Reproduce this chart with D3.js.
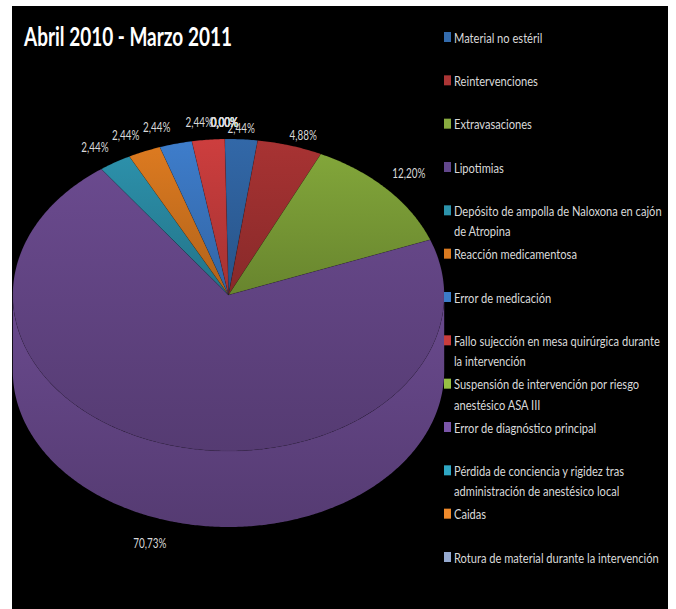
<!DOCTYPE html>
<html lang="es">
<head>
<meta charset="utf-8">
<script src="https://cdn.jsdelivr.net/npm/d3@7/dist/d3.min.js"></script>
<style>
html,body{margin:0;padding:0;background:#fff;overflow:hidden}
svg{display:block}
text{font-family:Lato,"Open Sans",sans-serif}
</style>
</head>
<body>
<svg id="chart" width="676" height="609"></svg>
<script>
const chartTitle = "Abril 2010 - Marzo 2011";
const categories = [
  ["Material no estéril"],
  ["Reintervenciones"],
  ["Extravasaciones"],
  ["Lipotimias"],
  ["Depósito de ampolla de Naloxona en cajón","de Atropina"],
  ["Reacción medicamentosa"],
  ["Error de medicación"],
  ["Fallo sujección en mesa quirúrgica durante","la intervención"],
  ["Suspensión de intervención por riesgo","anestésico ASA III"],
  ["Error de diagnóstico principal"],
  ["Pérdida de conciencia y rigidez tras","administración de anestésico local"],
  ["Caidas"],
  ["Rotura de material durante la intervención"]
];
const values = [2.44,4.88,12.20,70.73,2.44,2.44,2.44,2.44,0,0,0,0,0];
const sliceColors = ["#3268a8","#a83333","#82a63a","#6a4a8e","#2c90aa","#dc7a20","#3e7dcb","#cd3e3e","#97c044","#7a55a8","#2fa7c4","#ef8a2b","#95a9cf"];
const legendColors = ["#336bad","#ab3535","#88ab3f","#62478c","#2c93ab","#da7a20","#3c7cc9","#ca3c3c","#97c044","#7a55a8","#2fa7c4","#ef8a2b","#95a9cf"];

const W = 676, H = 609;
const panel = {x:12, y:6, w:656, h:603};
const pieC = {x:228.5, y:295, rx:215.7, ry:156, depth:76};
const rotation = -1 * Math.PI/180;
const svg = d3.select("#chart");
const defs = svg.append("defs");
const locale = d3.formatLocale({decimal:",",thousands:".",grouping:[3],currency:["","€"]});
const fmt = v => locale.format(".2f")(v) + "%";

svg.append("rect").attr("x",panel.x).attr("y",panel.y).attr("width",panel.w).attr("height",panel.h).attr("fill","#000");

const pie = d3.pie().value(d=>d).sort(null).startAngle(rotation).endAngle(rotation+2*Math.PI);
const arcs = pie(values);
const pt = (a,dy=0,k=1,ky=k) => [pieC.x + pieC.rx*k*Math.sin(a), pieC.y - pieC.ry*ky*Math.cos(a) + dy];
const line = d3.line();

function gradient(id,c){
  const g = defs.append("linearGradient").attr("id",id).attr("x1",0).attr("x2",0).attr("y1",0).attr("y2",1);
  g.append("stop").attr("offset",0).attr("stop-color",c);
  g.append("stop").attr("offset",1).attr("stop-color",d3.color(c).darker(0.62).formatHex());
}
sliceColors.forEach((c,i)=>gradient("g"+i,c));

function arcPts(a0,a1,dy=0){
  const n = Math.max(2,Math.ceil(Math.abs(a1-a0)/0.01));
  return d3.range(n+1).map(j=>pt(a0+(a1-a0)*j/n,dy));
}

// outer wall, only the part of each slice that faces the viewer
const wallG = svg.append("g");
arcs.forEach((d,i)=>{
  const a0 = Math.max(d.startAngle,Math.PI/2), a1 = Math.min(d.endAngle,3*Math.PI/2);
  if(a1<=a0) return;
  const top = arcPts(a0,a1), bot = arcPts(a1,a0,pieC.depth);
  wallG.append("path").attr("d",line(top.concat(bot))+"Z").attr("fill","url(#g"+i+")");
});

// top face
const topG = svg.append("g");
arcs.forEach((d,i)=>{
  if(d.value===0) return;
  const p = [[pieC.x,pieC.y]].concat(arcPts(d.startAngle,d.endAngle));
  topG.append("path").attr("d",line(p)+"Z").attr("fill","url(#g"+i+")")
    .attr("stroke","#000").attr("stroke-opacity",0.14).attr("stroke-width",0.6);
});

// data labels (small nudges stand in for the original's collision handling)
const labelNudge = [[-2,6],[4,6],[-2,-4],[-8,7],[-3,0],[-6,0],[-11,0],[-6,0],[0,1],[0,1],[0.4,1],[0.4,1],[0,1]];
const lblG = svg.append("g");
arcs.forEach((d,i)=>{
  const a = (d.startAngle+d.endAngle)/2;
  const front = Math.cos(a)<0 ? pieC.depth : 0;
  const [x,y] = pt(a,front,1.15,1.11);
  lblG.append("text").attr("transform",`translate(${x+labelNudge[i][0]},${y+labelNudge[i][1]+4.5}) scale(0.76,1)`)
    .attr("text-anchor","middle").attr("font-size",13).attr("fill","#d9d9d9").text(fmt(d.value));
});

// title
svg.append("text").attr("transform","translate(24,46) scale(0.73,1)")
  .attr("font-size",26).attr("font-weight",700).attr("fill","#fff").text(chartTitle);

// legend
const legendY = d3.scalePoint().domain(d3.range(categories.length)).range([37,557]);
const leg = svg.append("g").selectAll("g").data(categories).join("g")
  .attr("transform",(d,i)=>`translate(444,${legendY(i)})`);
leg.append("rect").attr("y",-5).attr("width",7).attr("height",10).attr("fill",(d,i)=>legendColors[i]);
leg.each(function(lines){
  d3.select(this).selectAll("text").data(lines).join("text")
    .attr("transform",(t,j)=>`translate(10,${5.5+j*20.5}) scale(0.795,1)`)
    .attr("font-size",14).attr("fill","#d9d9d9").text(t=>t);
});
</script>
</body>
</html>
